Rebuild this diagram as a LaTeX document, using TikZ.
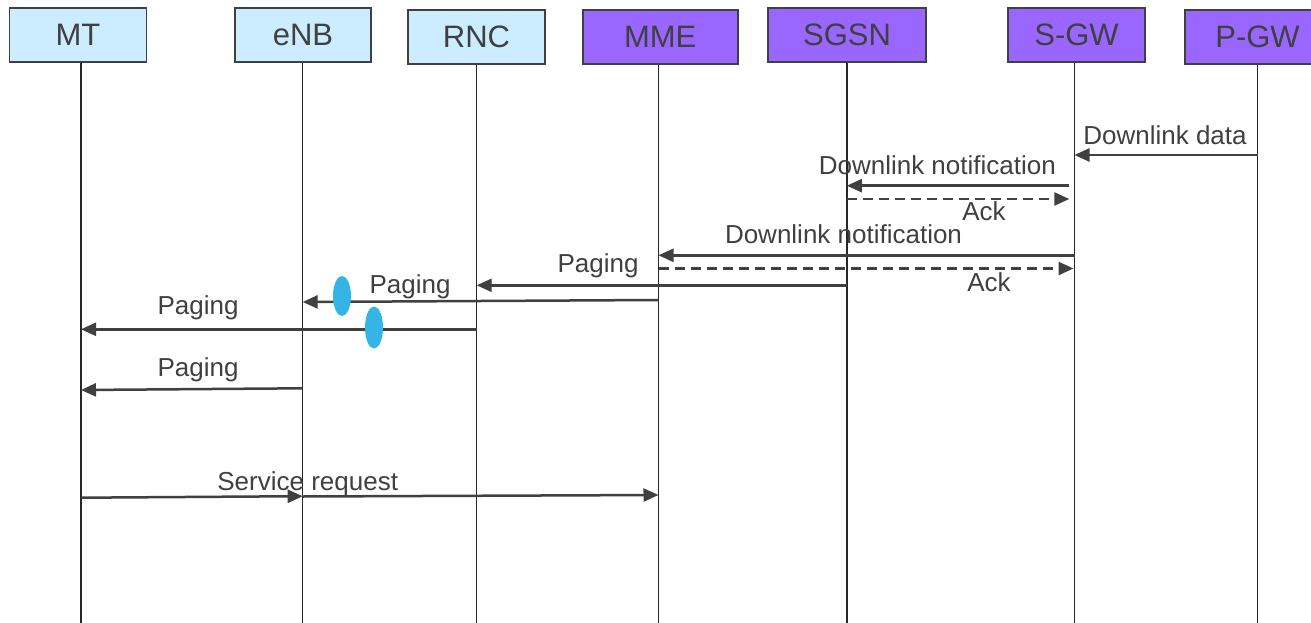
\documentclass[tikz,border=0pt]{standalone}
\usepackage{fontspec}
\setmainfont{Liberation Sans}
\usetikzlibrary{arrows.meta}
\definecolor{ink}{HTML}{404040}
\definecolor{lblue}{HTML}{CCECFF}
\definecolor{purp}{HTML}{9966FF}
\definecolor{dotblue}{HTML}{35B4E6}
\begin{document}
\begin{tikzpicture}[x=1pt,y=-1pt,
  ent/.style={draw=ink, line width=1.7pt, minimum height=54pt, inner sep=0pt, text=ink, font=\fontsize{31}{31}\selectfont},
  ue/.style={ent, fill=lblue},
  core/.style={ent, fill=purp},
  life/.style={line width=1.4pt, black!85},
  msg/.style={draw=ink, line width=2.5pt, -{Triangle[length=15pt,width=13pt]}},
  ackmsg/.style={msg, dash pattern=on 10pt off 6pt},
  lbl/.style={anchor=base, text=ink, inner sep=0pt, font=\fontsize{26}{26}\selectfont},
  ]
\useasboundingbox (0,0) rectangle (1311,623);
\fill[white] (0,0) rectangle (1311,623);

% entities
\node[ue,   minimum width=137pt] (MT)   at (78,35.3)    {MT};
\node[ue,   minimum width=136pt] (eNB)  at (303,35.3)   {eNB};
\node[ue,   minimum width=137pt] (RNC)  at (476.5,37.2) {RNC};
\node[core, minimum width=155pt] (MME)  at (660.2,37.2) {MME};
\node[core, minimum width=158pt] (SGSN) at (847,35.3)   {SGSN};
\node[core, minimum width=137pt] (SGW)  at (1076.5,35)  {S-GW};
\node[core, minimum width=145pt] (PGW)  at (1257.5,37.3){P-GW};

% lifelines
\foreach \n/\x in {MT/81, eNB/302.7, RNC/476.7, MME/658.5, SGSN/846.8, SGW/1074.5, PGW/1257.7}{
  \coordinate (\n-top) at (\n.south -| \x,0);
  \coordinate (\n-bot) at (\x,623);
  \draw[life] (\n-top) -- (\n-bot);
}

% message end points
\coordinate (a1) at (1257.7,155);   \coordinate (b1) at (1074.5,155);
\coordinate (a2) at (1069.3,185.7); \coordinate (b2) at (846.8,185.7);
\coordinate (a3) at (846.8,199);    \coordinate (b3) at (1069.3,199);
\coordinate (a4) at (1074.5,255.3); \coordinate (b4) at (658.5,255.3);
\coordinate (a5) at (658.5,268.5);  \coordinate (b5) at (1073.5,268.5);
\coordinate (a6) at (846.8,285.3);  \coordinate (b6) at (476.7,285.3);
\coordinate (a7) at (658.5,300);    \coordinate (b7) at (302.7,302);
\coordinate (a8) at (476.7,329.3);  \coordinate (b8) at (81,329.3);
\coordinate (a9) at (302.7,388.3);  \coordinate (b9) at (81,390);
\coordinate (a10) at (81,497.7);    \coordinate (b10) at (302.7,496.2);
\coordinate (a11) at (302.7,496.5); \coordinate (b11) at (658.5,495);

% messages
\draw[msg] (a1) -- (b1);
\draw[msg] (a2) -- (b2);
\draw[ackmsg] (a3) -- (b3);
\draw[msg] (a4) -- (b4);
\draw[ackmsg] (a5) -- (b5);
\draw[msg] (a6) -- (b6);
\draw[msg] (a7) -- (b7);
\draw[msg] (a8) -- (b8);
\draw[msg] (a9) -- (b9);
\draw[msg] (a10) -- (b10);
\draw[msg] (a11) -- (b11);

% markers
\fill[dotblue] (342,296) ellipse [x radius=9, y radius=20];
\fill[dotblue] (374,327.5) ellipse [x radius=9, y radius=21];

% labels
\node[lbl] (l1)  at (1165,144)   {Downlink data};
\node[lbl] (l2)  at (937.3,174)  {Downlink notification};
\node[lbl] (l3)  at (984,220)    {Ack};
\node[lbl] (l4)  at (843.5,243.5){Downlink notification};
\node[lbl] (l5)  at (989,291.7)  {Ack};
\node[lbl] (l6)  at (598,272)    {Paging};
\node[lbl] (l7)  at (410,293)    {Paging};
\node[lbl] (l8)  at (198,314)    {Paging};
\node[lbl] (l9)  at (198,376.7)  {Paging};
\node[lbl] (l10) at (307.7,490)  {Service request};
\end{tikzpicture}
\end{document}
